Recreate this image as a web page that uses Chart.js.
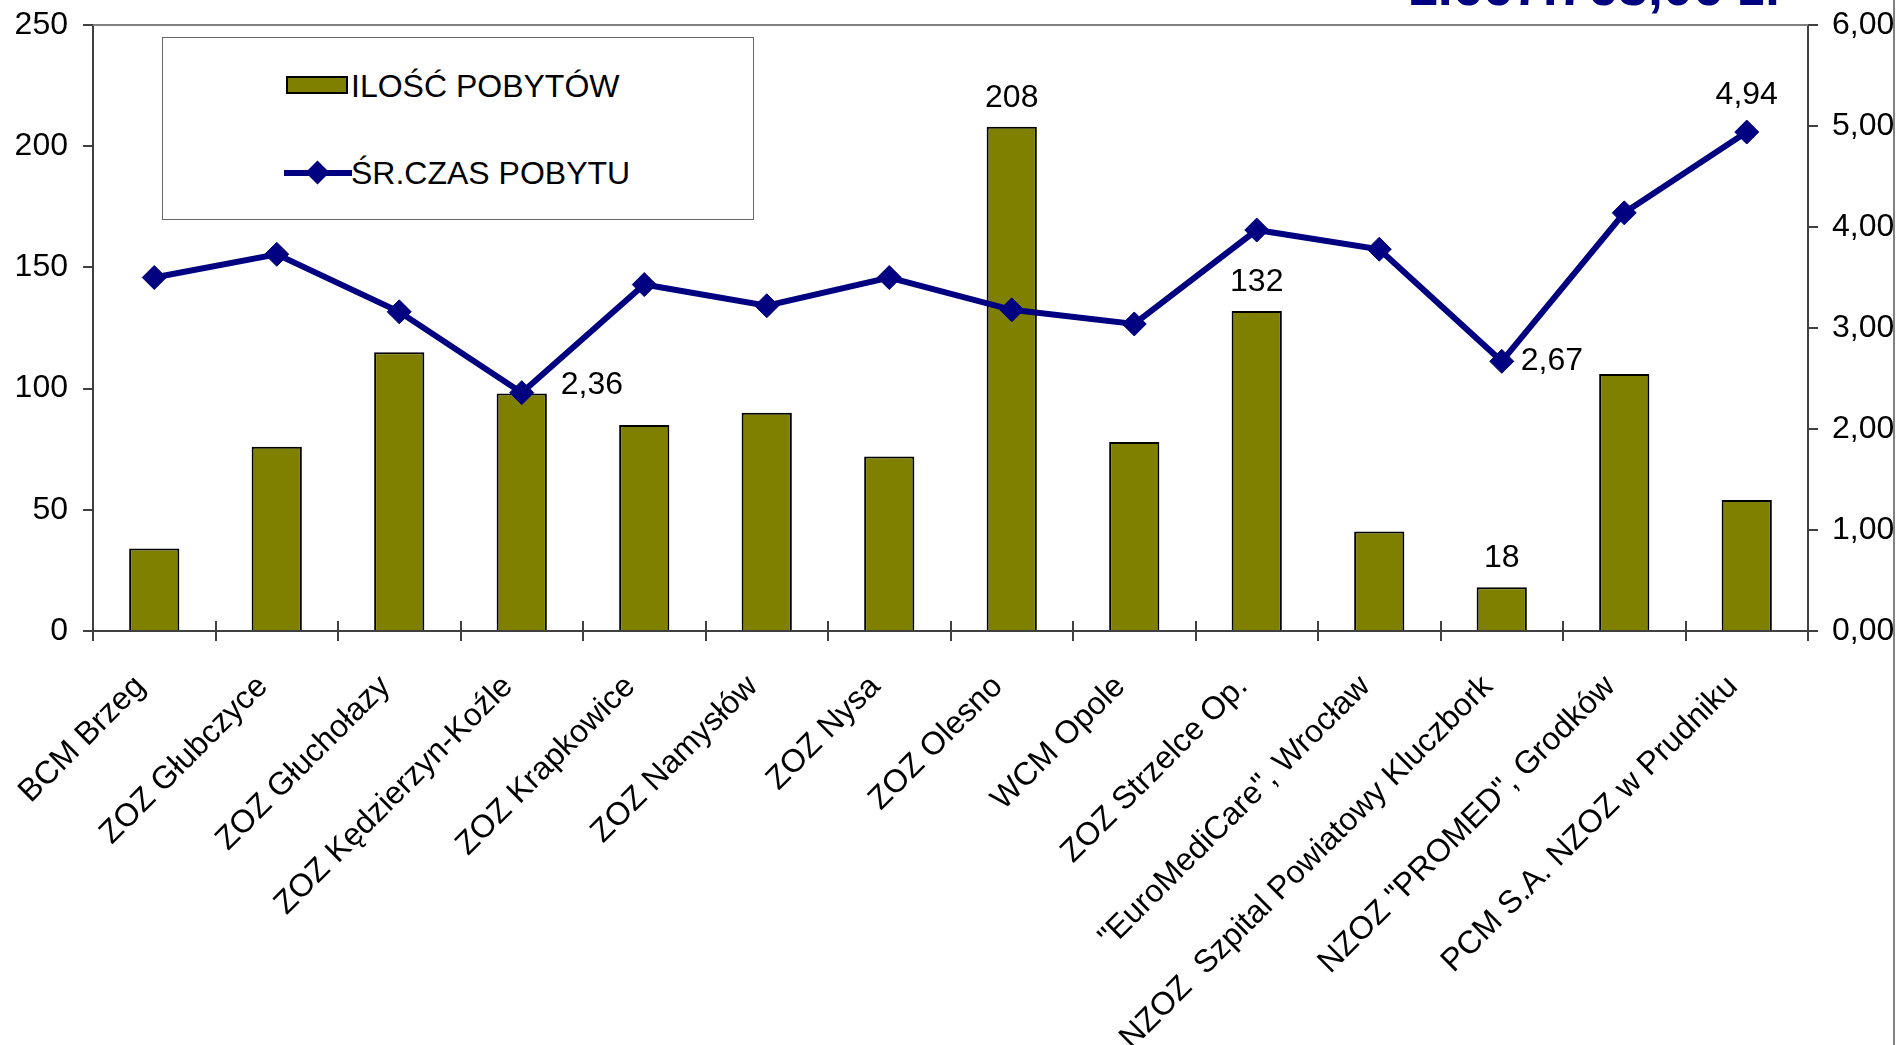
<!DOCTYPE html>
<html lang="pl">
<head>
<meta charset="utf-8">
<title>Ilość pobytów i średni czas pobytu</title>
<script src="https://cdn.jsdelivr.net/npm/chart.js@4.4.1/dist/chart.umd.min.js"></script>
<style>
  body { margin: 0; background: #fff; overflow: hidden; font-family: 'Liberation Sans', Arial, sans-serif; }
  #wrap { position: relative; width: 1893px; height: 1045px; overflow: hidden; border-right: 2px solid #808080; }
  #chart1 { position: absolute; left: 0; top: 0; }
  #total { position: absolute; right: 113px; top: -41px; font: bold 54px 'Liberation Sans', Arial, sans-serif; line-height: 54px; color: #000080; white-space: nowrap; }
  #legend { position: absolute; left: 162px; top: 37px; width: 590px; height: 181px; border: 1px solid #666; background: #fff; }
  #legend .txt { position: absolute; left: 188px; font-size: 32px; line-height: 36px; color: #000; white-space: nowrap; }
  #swatchBar { position: absolute; left: 123px; top: 38px; width: 58px; height: 14px; background: #808000; border: 2px solid #000; }
  #swatchLine { position: absolute; left: 121px; top: 132px; width: 68px; height: 6px; background: #000080; }
  #swatchDot { position: absolute; left: 146px; top: 126px; width: 17px; height: 17px; background: #000080; transform: rotate(45deg); }
</style>
</head>
<body>
<div id="wrap">
  <canvas id="chart1" width="1899" height="1045"></canvas>
  <div id="total"></div>
  <div id="legend">
    <div id="swatchBar"></div>
    <div class="txt" id="legendText1" style="top: 30px;"></div>
    <div id="swatchLine"></div>
    <div id="swatchDot"></div>
    <div class="txt" id="legendText2" style="top: 117px;"></div>
  </div>
</div>
<script>
'use strict';

// chart data
var categories = [
  'BCM Brzeg',
  'ZOZ Głubczyce',
  'ZOZ Głuchołazy',
  'ZOZ Kędzierzyn-Koźle',
  'ZOZ Krapkowice',
  'ZOZ Namysłów',
  'ZOZ Nysa',
  'ZOZ Olesno',
  'WCM Opole',
  'ZOZ Strzelce Op.',
  '"EuroMediCare", Wrocław',
  'NZOZ  Szpital Powiatowy Kluczbork',
  'NZOZ "PROMED", Grodków',
  'PCM S.A. NZOZ w Prudniku'
];
var stayCounts = [34, 76, 115, 98, 85, 90, 72, 208, 78, 132, 41, 18, 106, 54];
var avgStayDays = [3.50, 3.73, 3.16, 2.36, 3.43, 3.22, 3.50, 3.18, 3.04, 3.97, 3.78, 2.67, 4.14, 4.94];
var countTicks = [0, 50, 100, 150, 200, 250];
var dayTicks = [0, 1, 2, 3, 4, 5, 6];
var countLabelIndexes = [7, 9, 11];
var dayLabelIndexes = [3, 11, 13];
var seriesNames = ['ILOŚĆ POBYTÓW', 'ŚR.CZAS POBYTU'];
var totalAmount = '1.667.763,06 zł';

var FONT = "'Liberation Sans', Arial, sans-serif";
var AXIS_COLOR = '#404040';

function formatDays(v){
  return v.toFixed(2).replace('.', ',');
}

// top frame line and x tick marks that cross the axis
var axisFramePlugin = {
  id: 'axisFrame',
  afterDraw: function(chart){
    var ctx = chart.ctx;
    var area = chart.chartArea;
    var xs = chart.scales.x;
    ctx.save();
    ctx.strokeStyle = '#808080';
    ctx.lineWidth = 2;
    ctx.beginPath();
    ctx.moveTo(area.left, area.top);
    ctx.lineTo(area.right, area.top);
    ctx.stroke();
    ctx.strokeStyle = AXIS_COLOR;
    var half = (xs.getPixelForValue(1) - xs.getPixelForValue(0)) / 2;
    ctx.beginPath();
    for (var i = 0; i <= categories.length; i++) {
      var x = Math.round(xs.getPixelForValue(i) - half);
      ctx.moveTo(x, area.bottom - 10);
      ctx.lineTo(x, area.bottom + 10);
    }
    ctx.stroke();
    ctx.restore();
  }
};

// value labels on chosen bars and points
var valueLabelPlugin = {
  id: 'valueLabels',
  afterDatasetsDraw: function(chart, args, opts){
    var ctx = chart.ctx;
    ctx.save();
    ctx.font = '32px ' + FONT;
    ctx.fillStyle = '#000';
    var bars = chart.getDatasetMeta(0).data;
    ctx.textAlign = 'center';
    ctx.textBaseline = 'alphabetic';
    countLabelIndexes.forEach(function(i){
      ctx.fillText(String(stayCounts[i]), bars[i].x, bars[i].y - 20);
    });
    var points = chart.getDatasetMeta(1).data;
    dayLabelIndexes.forEach(function(i){
      var place = opts.dayPlacement[i];
      if(place.side === 'above'){
        ctx.textAlign = 'center';
        ctx.textBaseline = 'alphabetic';
      }else{
        ctx.textAlign = 'left';
        ctx.textBaseline = 'middle';
      }
      ctx.fillText(formatDays(avgStayDays[i]), points[i].x + place.dx, points[i].y + place.dy);
    });
    ctx.restore();
  }
};

// y axes: fixed width, no extra top/bottom padding
function fitYAxis(width){
  return function(scale){
    scale.width = width;
    scale.paddingTop = 0;
    scale.paddingBottom = 0;
  };
}

// run script
document.getElementById('total').textContent = totalAmount;
document.getElementById('legendText1').textContent = seriesNames[0];
document.getElementById('legendText2').textContent = seriesNames[1];

var tickFont = { family: FONT, size: 32 };
var context = document.getElementById('chart1').getContext('2d');
new Chart(context, {
  type: 'bar',
  data: {
    labels: categories,
    datasets: [
      {
        type: 'bar',
        label: seriesNames[0],
        data: stayCounts,
        yAxisID: 'y',
        order: 1,
        backgroundColor: '#808000',
        borderColor: '#000000',
        borderWidth: 2,
        barPercentage: 0.41,
        categoryPercentage: 1
      },
      {
        type: 'line',
        label: seriesNames[1],
        data: avgStayDays,
        yAxisID: 'y1',
        order: 0,
        borderColor: '#000080',
        borderWidth: 6,
        tension: 0,
        pointStyle: 'rectRot',
        pointRadius: 12,
        pointBackgroundColor: '#000080',
        pointBorderColor: '#000080',
        pointBorderWidth: 1
      }
    ]
  },
  options: {
    responsive: false,
    animation: false,
    layout: { padding: { top: 25 } },
    plugins: {
      legend: { display: false },
      tooltip: { enabled: false },
      valueLabels: {
        dayPlacement: {
          3: { side: 'right', dx: 39, dy: -7 },
          11: { side: 'right', dx: 19, dy: 0 },
          13: { side: 'above', dx: 0, dy: -28 }
        }
      }
    },
    scales: {
      x: {
        offset: true,
        grid: { display: false },
        border: { display: true, color: AXIS_COLOR, width: 2 },
        ticks: {
          autoSkip: false,
          minRotation: 45,
          maxRotation: 45,
          padding: 29,
          labelOffset: -14,
          color: '#000',
          font: tickFont
        },
        afterFit: function(scale){ scale.height = 414; }
      },
      y: {
        position: 'left',
        min: 0,
        max: 250,
        grid: { drawOnChartArea: false, tickLength: 10, color: AXIS_COLOR, lineWidth: 2 },
        border: { color: AXIS_COLOR, width: 2 },
        ticks: { padding: 15, color: '#000', font: tickFont },
        afterBuildTicks: function(scale){
          scale.ticks = countTicks.map(function(v){ return { value: v }; });
        },
        afterFit: fitYAxis(93)
      },
      y1: {
        position: 'right',
        min: 0,
        max: 6,
        grid: { drawOnChartArea: false, tickLength: 10, color: AXIS_COLOR, lineWidth: 2 },
        border: { color: AXIS_COLOR, width: 2 },
        ticks: {
          padding: 14,
          color: '#000',
          font: tickFont,
          callback: function(value){ return formatDays(value); }
        },
        afterBuildTicks: function(scale){
          scale.ticks = dayTicks.map(function(v){ return { value: v }; });
        },
        afterFit: fitYAxis(91)
      }
    }
  },
  plugins: [axisFramePlugin, valueLabelPlugin]
});
</script>
</body>
</html>
